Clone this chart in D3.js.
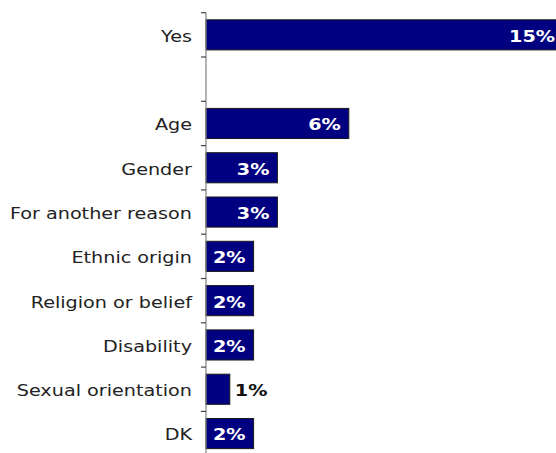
<!DOCTYPE html>
<html><head><meta charset="utf-8">
<script src="https://cdn.jsdelivr.net/npm/d3@7"></script>
<style>html,body{margin:0;padding:0;background:#fff;}svg{display:block;}</style>
</head><body>
<svg id="c" width="556" height="453"></svg>
<script>
const categories = ["Yes", "", "Age", "Gender", "For another reason", "Ethnic origin", "Religion or belief", "Disability", "Sexual orientation", "DK"];
const values = [15, null, 6, 3, 3, 2, 2, 2, 1, 2];
const valueLabels = ["15%", "", "6%", "3%", "3%", "2%", "2%", "2%", "1%", "2%"];

const svg = d3.select("#c");
const W = 556, H = 453;
const left = 206;
const sx = 1.2;

const y = d3.scaleBand().domain(d3.range(categories.length)).range([12.7, 455.7]).paddingInner(0.32).paddingOuter(0.16);
const x = d3.scaleLinear().domain([0, 15]).range([left, 563]);

// bars
const data = categories.map((c, i) => ({c, v: values[i], lab: valueLabels[i], i}));
svg.append("g").selectAll("rect").data(data.filter(d => d.v != null)).join("rect")
  .attr("x", x(0)).attr("y", d => y(d.i))
  .attr("width", d => x(d.v) - x(0)).attr("height", y.bandwidth())
  .attr("fill", "#000080").attr("stroke", "#1a1a1a").attr("stroke-width", 1);

// axis
const step = y.step();
const ax = svg.append("g");
ax.append("line").attr("x1", left).attr("x2", left).attr("y1", 12.7).attr("y2", H)
  .attr("stroke", "#808080").attr("stroke-width", 1.2);
d3.range(categories.length + 1).forEach(k => {
  const ty = 12.7 + k * step;
  ax.append("line").attr("x1", left - 5).attr("x2", left).attr("y1", ty).attr("y2", ty)
    .attr("stroke", "#444").attr("stroke-width", 1.2);
});

// category labels
svg.append("g").selectAll("text").data(data.filter(d => d.c)).join("text")
  .attr("transform", d => `translate(${left - 14},${y(d.i) + y.bandwidth() / 2 + 1.5}) scale(${sx},1)`)
  .attr("text-anchor", "end").attr("dominant-baseline", "central")
  .attr("font-family", "DejaVu Sans, Verdana, sans-serif").attr("font-size", 16)
  .attr("fill", "#222").text(d => d.c);

// value labels
svg.append("g").selectAll("text").data(data.filter(d => d.v != null)).join("text")
  .attr("transform", d => {
    const inside = d.v >= 2;
    const tx = inside ? x(d.v) - 8 : x(d.v) + 5;
    return `translate(${tx},${y(d.i) + y.bandwidth() / 2 + 1.5}) scale(${sx},1)`;
  })
  .attr("text-anchor", d => d.v >= 2 ? "end" : "start").attr("dominant-baseline", "central")
  .attr("font-family", "DejaVu Sans, Verdana, sans-serif").attr("font-size", 16).attr("font-weight", "bold")
  .attr("fill", d => d.v >= 2 ? "#fff" : "#111").text(d => d.lab);
</script>
</body></html>
